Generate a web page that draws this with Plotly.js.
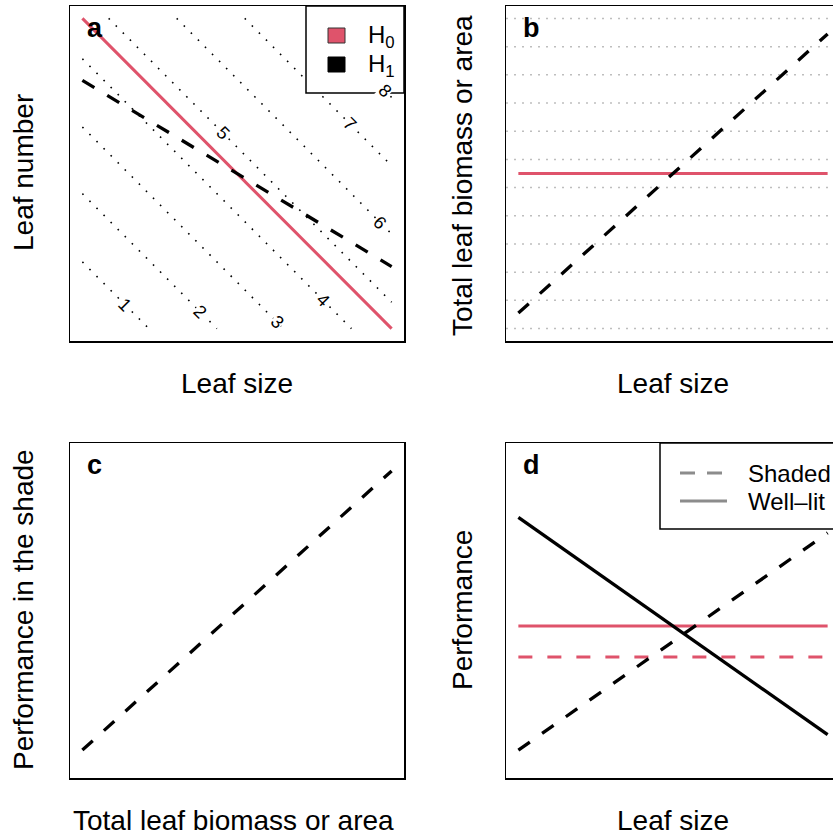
<!DOCTYPE html>
<html><head><meta charset="utf-8">
<script src="https://cdn.plot.ly/plotly-3.0.1.min.js"></script>
<style>
html,body{margin:0;padding:0;overflow:hidden;background:#fff;width:833px;height:838px}
#plot{width:880px;height:838px}
</style>
</head><body><div id="plot"></div>
<script>
// ---------------- data (unit-free 0..1 scales) ----------------
const leafSize = [0, 1];
const h0LeafNumber = [1, 0];
const h1LeafNumber = [0.8, 0.2];
const contourLevels = ['1','2','3','4','5','6','7','8'];
const contourSums = [0.215, 0.435, 0.65, 0.87, 1.085, 1.305, 1.525, 1.745];
const contourLabelX = [0.138, 0.381, 0.63, 0.778, 0.455, 0.963, 0.865, 0.979];
const h0Total = [0.5, 0.5];
const h1Total = [0.05, 0.95];
const totalGridLevels = [0, 0.091, 0.182, 0.273, 0.364, 0.455, 0.545, 0.636, 0.727, 0.818, 0.909, 1.0];
const totalBiomass = [0, 1];
const shadePerformance = [0.05, 0.95];
const h0WellLit = [0.45, 0.45];
const h0Shaded = [0.35, 0.35];
const h1WellLit = [0.8, 0.1];
const h1Shaded = [0.05, 0.75];
const panelLetters = ['a', 'b', 'c', 'd'];
const legendA = ['H<sub>0</sub>', 'H<sub>1</sub>'];
const legendD = ['Shaded', 'Well\u2013lit'];

// ---------------- layout geometry ----------------
const W = 880, H = 838;
const RED = '#DF536B', BLACK = '#000000', GREY = '#8c8c8c';
const FONT = 'Liberation Sans, Arial, Helvetica, sans-serif';
const box = {
  a: [70, 404, 6, 341], b: [506, 840, 6, 341],
  c: [70, 404, 443, 778], d: [506, 840, 443, 778]
};
const px = x => x / W, py = y => 1 - y / H;
const DASH = '14px,15px';

function axis(b, isX, anchor) {
  return {
    domain: isX ? [px(b[0]), px(b[1])] : [py(b[3]), py(b[2])],
    range: [-0.04, 1.04], anchor: anchor,
    showgrid: false, zeroline: false, showticklabels: false, ticks: '',
    showline: true, mirror: true, linecolor: BLACK, linewidth: 1.5, fixedrange: true
  };
}

const traces = [];
function line(xa, ya, x, y, color, dash, width) {
  traces.push({type: 'scatter', mode: 'lines', x: x, y: y, xaxis: xa, yaxis: ya,
    line: {color: color, width: width || 3, dash: dash || 'solid'},
    hoverinfo: 'skip', showlegend: false});
}

// panel a: contours of total leaf amount
contourSums.forEach(s => {
  const x = s <= 1 ? [0, s] : [s - 1, 1];
  const y = x.map(v => s - v);
  line('x', 'y', x, y, BLACK, '1.6px,8.4px', 1.6);
});
line('x', 'y', leafSize, h0LeafNumber, RED, 'solid', 3);
line('x', 'y', leafSize, h1LeafNumber, BLACK, DASH, 3.3);

// panel b
line('x2', 'y2', leafSize, h0Total, RED, 'solid', 3);
line('x2', 'y2', leafSize, h1Total, BLACK, DASH, 3.3);

// panel c
line('x3', 'y3', totalBiomass, shadePerformance, BLACK, DASH, 3.3);

// panel d
line('x4', 'y4', leafSize, h0WellLit, RED, 'solid', 3);
line('x4', 'y4', leafSize, h0Shaded, RED, DASH, 3);
line('x4', 'y4', leafSize, h1WellLit, BLACK, 'solid', 3.3);
line('x4', 'y4', leafSize, h1Shaded, BLACK, DASH, 3.3);

const shapes = [];
// panel b horizontal dotted reference lines
totalGridLevels.forEach(v => shapes.push({type: 'line', xref: 'x2 domain', yref: 'y2',
  x0: 0, x1: 1, y0: v, y1: v, layer: 'below',
  line: {color: '#bebebe', width: 1.5, dash: '2px,6px'}}));

// legend a
shapes.push({type: 'rect', xref: 'paper', yref: 'paper', x0: px(306), x1: px(404), y0: py(93), y1: py(6),
  fillcolor: '#ffffff', line: {color: BLACK, width: 1.5}, layer: 'above'});
shapes.push({type: 'rect', xref: 'paper', yref: 'paper', x0: px(328), x1: px(345), y0: py(43), y1: py(28),
  fillcolor: RED, line: {color: '#333333', width: 1}, layer: 'above'});
shapes.push({type: 'rect', xref: 'paper', yref: 'paper', x0: px(328), x1: px(345), y0: py(72), y1: py(57),
  fillcolor: BLACK, line: {color: BLACK, width: 1}, layer: 'above'});
// legend d
shapes.push({type: 'rect', xref: 'paper', yref: 'paper', x0: px(660), x1: px(870), y0: py(529), y1: py(443),
  fillcolor: '#ffffff', line: {color: BLACK, width: 1.5}, layer: 'above'});
shapes.push({type: 'line', xref: 'paper', yref: 'paper', x0: px(680), x1: px(727), y0: py(473), y1: py(473),
  line: {color: GREY, width: 3, dash: '15px,12px'}, layer: 'above'});
shapes.push({type: 'line', xref: 'paper', yref: 'paper', x0: px(680), x1: px(727), y0: py(501), y1: py(501),
  line: {color: GREY, width: 3}, layer: 'above'});

const annotations = [];
function ann(text, x, y, opts) {
  annotations.push(Object.assign({text: text, xref: 'paper', yref: 'paper', x: px(x), y: py(y),
    showarrow: false, xanchor: 'center', yanchor: 'middle',
    font: {family: FONT, size: 28, color: BLACK}}, opts || {}));
}
// axis titles
ann('Leaf size', 237, 383);
ann('Leaf size', 673, 383);
ann('Total leaf biomass or area', 233, 820);
ann('Leaf size', 673, 820);
ann('Leaf number', 23, 173, {textangle: -90});
ann('Total leaf biomass or area', 462, 176, {textangle: -90});
ann('Performance in the shade', 23, 610, {textangle: -90});
ann('Performance', 462, 610, {textangle: -90});
// panel letters
const letterPos = [[85, 28], [521, 28], [85, 465], [521, 465]];
panelLetters.forEach((l, i) => ann('<b>' + l + '</b>', letterPos[i][0], letterPos[i][1],
  {xanchor: 'left', font: {family: FONT, size: 27, color: BLACK}}));
// legend texts
ann(legendA[0], 366, 37, {xanchor: 'left', font: {family: FONT, size: 24, color: BLACK}});
ann(legendA[1], 366, 66, {xanchor: 'left', font: {family: FONT, size: 24, color: BLACK}});
ann(legendD[0], 746, 473, {xanchor: 'left', font: {family: FONT, size: 24, color: BLACK}});
ann(legendD[1], 746, 501, {xanchor: 'left', font: {family: FONT, size: 24, color: BLACK}});
// contour labels
contourLevels.forEach((lab, i) => annotations.push({text: lab, xref: 'x', yref: 'y',
  x: contourLabelX[i], y: contourSums[i] - contourLabelX[i], showarrow: false, textangle: 45,
  xanchor: 'center', yanchor: 'middle', bgcolor: '#ffffff', borderpad: 0,
  font: {family: FONT, size: 18, color: BLACK}}));

const layout = {
  width: W, height: H, margin: {l: 0, r: 0, t: 0, b: 0},
  paper_bgcolor: '#ffffff', plot_bgcolor: '#ffffff', showlegend: false,
  xaxis: axis(box.a, true, 'y'), yaxis: axis(box.a, false, 'x'),
  xaxis2: axis(box.b, true, 'y2'), yaxis2: axis(box.b, false, 'x2'),
  xaxis3: axis(box.c, true, 'y3'), yaxis3: axis(box.c, false, 'x3'),
  xaxis4: axis(box.d, true, 'y4'), yaxis4: axis(box.d, false, 'x4'),
  shapes: shapes, annotations: annotations
};
Plotly.newPlot('plot', traces, layout, {displayModeBar: false, staticPlot: true});
</script>
</body></html>
